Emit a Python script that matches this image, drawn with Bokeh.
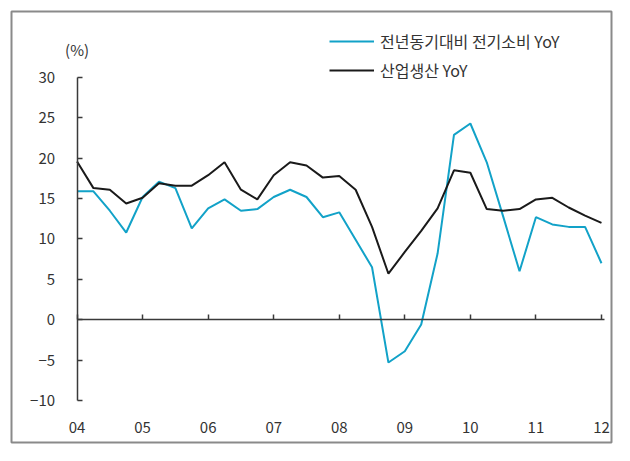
from bokeh.plotting import figure
from bokeh.models import (ColumnDataSource, Legend, LegendItem, LinearAxis,
                          FixedTicker, Label, Range1d)
from bokeh.embed import file_html
from bokeh.resources import INLINE

# ---- data (quarterly, 2004Q1 .. 2012Q1) ----
start_year = 2004
tick_years = [2004, 2005, 2006, 2007, 2008, 2009, 2010, 2011, 2012]
tick_labels = ["04", "05", "06", "07", "08", "09", "10", "11", "12"]
y_ticks = [-10, -5, 0, 5, 10, 15, 20, 25, 30]

elec_yoy = [15.9, 15.9, 13.5, 10.8, 15.2, 17.1, 16.3, 11.3, 13.8, 14.9, 13.5,
            13.7, 15.2, 16.1, 15.2, 12.7, 13.3, 9.9, 6.5, -5.3, -3.9, -0.6,
            8.2, 22.9, 24.3, 19.5, 12.8, 6.0, 12.7, 11.8, 11.5, 11.5, 7.0]
ip_yoy = [19.6, 16.3, 16.1, 14.4, 15.1, 16.9, 16.6, 16.6, 17.9, 19.5, 16.1,
          14.9, 17.9, 19.5, 19.1, 17.6, 17.8, 16.1, 11.5, 5.7, 8.4, 11.0,
          13.8, 18.5, 18.2, 13.7, 13.5, 13.7, 14.9, 15.1, 13.9, 12.9, 12.0]
legend_labels = ["전년동기대비 전기소비 YoY", "산업생산 YoY"]

x = [start_year + i / 4 for i in range(len(elec_yoy))]
src = ColumnDataSource(dict(x=x, elec=elec_yoy, ip=ip_yoy))

FONT = "Noto Sans CJK KR"
TXT = "#333333"
AX = "#3a3a3a"
BLUE = "#12a2c8"
BLACK = "#1a1a1a"

p = figure(width=614, height=445, output_backend="svg", toolbar_location=None,
           x_range=Range1d(2003.0, 2012.153), y_range=Range1d(-15.2, 38.17),
           min_border_left=11, min_border_right=3, min_border_top=11,
           min_border_bottom=3, x_axis_location=None, y_axis_location=None)
p.grid.visible = False
p.outline_line_color = "#8a8a8a"
p.outline_line_width = 2
p.background_fill_color = "white"
p.border_fill_color = "white"

# y axis fixed at the first year
yax = LinearAxis(fixed_location=start_year, bounds=(y_ticks[0], y_ticks[-1]),
                 ticker=FixedTicker(ticks=y_ticks))
yax.axis_line_color = AX
yax.axis_line_width = 1.5
yax.major_tick_line_color = AX
yax.major_tick_line_width = 1.5
yax.major_tick_in = 5
yax.major_tick_out = 0
yax.minor_tick_line_color = None
yax.major_label_standoff = 22
yax.major_label_text_font = FONT
yax.major_label_text_font_size = "15px"
yax.major_label_text_color = TXT
yax.major_label_overrides = {t: ("\u2212" + str(-t) if t < 0 else str(t)) for t in y_ticks}
p.add_layout(yax, "left")

# zero line with ticks
zax = LinearAxis(fixed_location=0, bounds=(tick_years[0], tick_years[-1] + 0.05),
                 ticker=FixedTicker(ticks=tick_years))
zax.axis_line_color = AX
zax.axis_line_width = 1.5
zax.major_tick_line_color = AX
zax.major_tick_line_width = 1.5
zax.major_tick_in = 5
zax.major_tick_out = 0
zax.minor_tick_line_color = None
zax.major_label_text_color = None
p.add_layout(zax, "below")

# year labels along the bottom
lax = LinearAxis(fixed_location=-11.7, ticker=FixedTicker(ticks=tick_years))
lax.axis_line_color = None
lax.major_tick_line_color = None
lax.minor_tick_line_color = None
lax.major_label_standoff = 2
lax.major_label_text_font = FONT
lax.major_label_text_font_size = "15px"
lax.major_label_text_color = TXT
lax.major_label_overrides = dict(zip(tick_years, tick_labels))
p.add_layout(lax, "below")

r1 = p.line("x", "elec", source=src, line_color=BLUE, line_width=2)
r2 = p.line("x", "ip", source=src, line_color=BLACK, line_width=2)

p.add_layout(Label(x=start_year, y=33.5, text="(%)", text_align="center",
                   text_baseline="middle", text_font=FONT,
                   text_font_size="15px", text_color=TXT))

legend = Legend(items=[LegendItem(label=legend_labels[0], renderers=[r1]),
                       LegendItem(label=legend_labels[1], renderers=[r2])],
                location=(318, 360), orientation="vertical")
legend.border_line_color = None
legend.background_fill_alpha = 0
legend.padding = 0
legend.margin = 0
legend.spacing = 5
legend.glyph_width = 45
legend.glyph_height = 20
legend.label_height = 20
legend.label_standoff = 6
legend.label_text_font = FONT
legend.label_text_font_size = "16px"
legend.label_text_color = TXT
p.add_layout(legend, "center")

open("out.html", "w").write(file_html(p, INLINE))
